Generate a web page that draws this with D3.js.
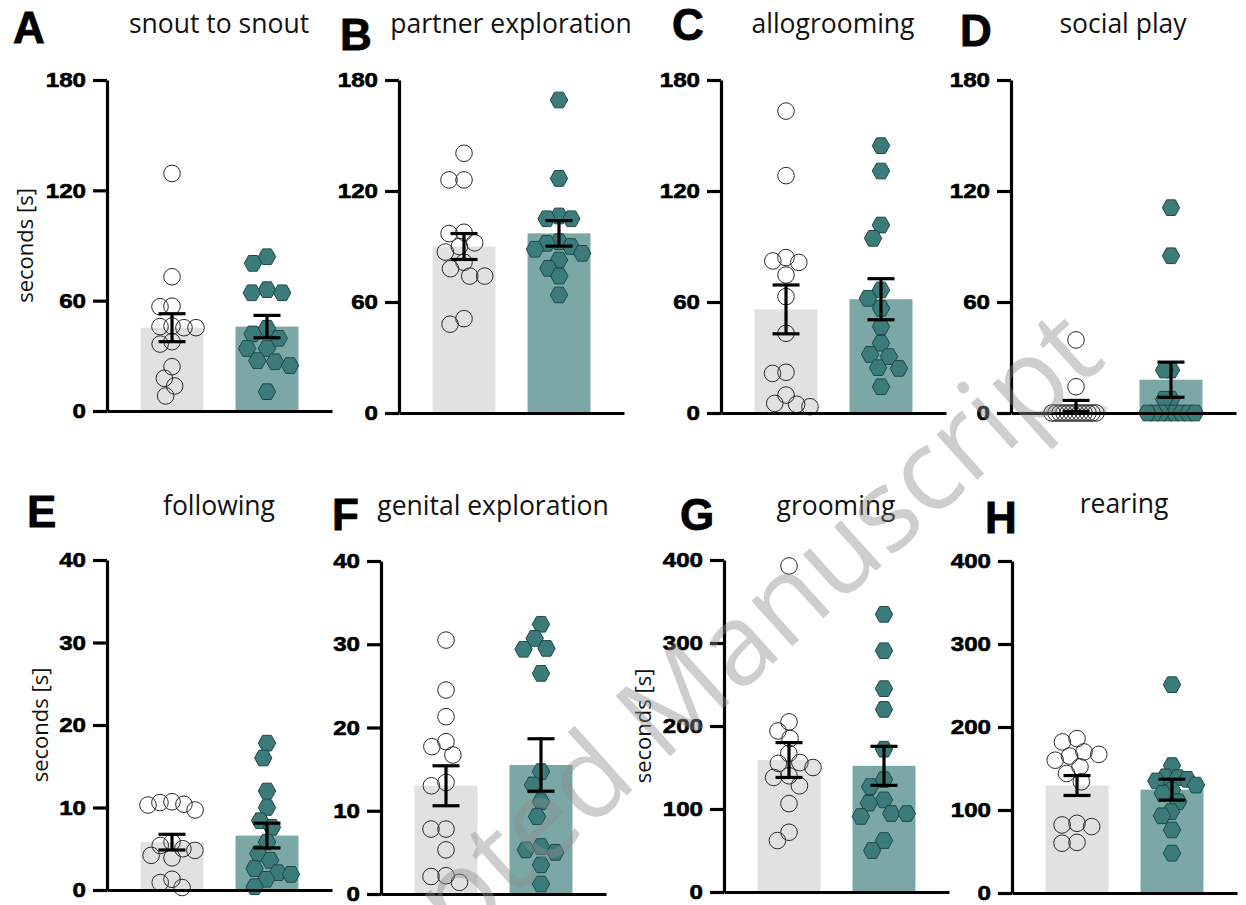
<!DOCTYPE html>
<html><head><meta charset="utf-8">
<script src="https://cdn.jsdelivr.net/npm/d3@7"></script>
<style>body{margin:0;background:#fff}</style>
</head><body><svg id="chart" width="1246" height="905"></svg>
<script>
// ---------------- DATA ----------------
const panelLetters = ["A", "B", "C", "D", "E", "F", "G", "H"];
const panelTitles = ["snout to snout", "partner exploration", "allogrooming", "social play",
                     "following", "genital exploration", "grooming", "rearing"];
const groups = ["control", "treated"];
const yMax = [180, 180, 180, 180, 40, 40, 400, 400];
const yTicks = [[0, 60, 120, 180], [0, 60, 120, 180], [0, 60, 120, 180], [0, 60, 120, 180],
                [0, 10, 20, 30, 40], [0, 10, 20, 30, 40], [0, 100, 200, 300, 400], [0, 100, 200, 300, 400]];
const yAxisLabel = "seconds [s]";
const watermarkText = "Accepted Manuscript";

const controlValues = [
  [129.2, 73, 57, 56.7, 46.2, 45.9, 45.3, 45.3, 37.7, 36.4, 24.1, 17.8, 13.6, 8.2],
  [140.4, 126, 126, 97.7, 97, 92, 90, 87, 81.5, 78, 74, 74, 51, 48],
  [163.2, 128.3, 84, 82.2, 81.4, 74.6, 62.9, 43.1, 22, 21.4, 9.7, 5.2, 4.7, 3.4],
  [39.5, 14.2, 0, 0, 0, 0, 0, 0, 0, 0, 0, 0, 0, 0],
  [10.7, 10.6, 10.4, 10.3, 9.7, 5.8, 5.4, 5.0, 4.8, 4.2, 3.9, 1.3, 0.9, 0.3],
  [30.5, 24.5, 21.3, 18.3, 17.7, 16.7, 13.4, 13, 7.8, 7.8, 5.3, 2.2, 2.1, 1.4],
  [392.8, 205, 194, 185, 167, 156, 155, 150, 140, 138, 128, 106.5, 72, 62],
  [186, 182, 170, 167, 165, 160, 152, 144, 134, 84, 82, 80, 61, 60]
];
const treatedValues = [
  [83.9, 80.3, 66, 64.3, 64.3, 45, 41.9, 39.5, 34, 34, 27.4, 26.8, 24.7, 10.5],
  [169.2, 126.8, 106.5, 105, 105, 92.6, 91.7, 90, 88.5, 86.3, 82.7, 78.2, 74, 63.8],
  [144.5, 130.8, 101.6, 94.4, 66.5, 62, 56.6, 46.7, 37.7, 31.7, 30.5, 24.5, 24.1, 14.2],
  [111, 85, 23.2, 23.2, 7.4, 7.4, 0, 0, 0, 0, 0, 0, 0, 0],
  [17.8, 16, 12, 10, 8.4, 7.6, 5.8, 4.4, 3.6, 2.6, 2.1, 1.9, 1.3, 0.4],
  [32.4, 30.7, 29.5, 29.4, 26.5, 14.7, 13.1, 11.1, 9.3, 5.7, 5.3, 5, 3.5, 1.2],
  [334.5, 290.7, 245, 220, 172, 135.5, 127, 111, 107, 94.5, 94.5, 91, 62, 50],
  [251, 153.5, 140, 139, 137, 135, 130, 124, 120, 110, 98, 93, 76, 48]
];
const controlMean = [45.3, 90, 56, 3.8, 5.8, 13, 159, 129.5];
const controlSem  = [7.6, 7, 13.2, 3.0, 0.95, 2.4, 21, 12];
const treatedMean = [45.9, 97.1, 61.5, 18, 6.6, 15.5, 152, 124.5];
const treatedSem  = [6.1, 6.9, 11.1, 9.5, 1.5, 3.15, 23.5, 12.6];

// ---------------- LAYOUT ----------------
const layout = [
  {x: 107,  top: 80,  bottom: 411, lx: 13,  ly: 43,  ty: 33,  ylab: -82},
  {x: 399,  top: 80,  bottom: 413, lx: 340, ly: 50,  ty: 33,  ylab: null},
  {x: 721,  top: 80,  bottom: 413, lx: 672, ly: 40,  ty: 33,  ylab: null},
  {x: 1011, top: 80,  bottom: 413, lx: 960, ly: 46,  ty: 33,  ylab: null},
  {x: 107,  top: 560, bottom: 890, lx: 27,  ly: 527, ty: 515, ylab: -67},
  {x: 381,  top: 561, bottom: 894, lx: 332, ly: 530, ty: 515, ylab: null},
  {x: 724,  top: 560, bottom: 892, lx: 680, ly: 530, ty: 515, ylab: -81},
  {x: 1012, top: 561, bottom: 893, lx: 985, ly: 533, ty: 513, ylab: null}
];

const COL = {
  ctrlBar: "#e1e1e1", trtBar: "#7ba8a6", hexFill: "#3b7b79", hexStroke: "#1e4846",
  circStroke: "#2a2a2a", axis: "#000"
};

const svg = d3.select("#chart");

const hexagon = {
  draw(ctx, size) {
    const r = Math.sqrt(size / 2.598);
    for (let k = 0; k < 6; k++) {
      const a = k * Math.PI / 3;
      const px = r * Math.cos(a), py = r * Math.sin(a) * 1.04;
      if (k) ctx.lineTo(px, py); else ctx.moveTo(px, py);
    }
    ctx.closePath();
  }
};

function swarm(values, y, D, maxHalf) {
  const idx = values.map((v, i) => i).sort((a, b) => values[b] - values[a]);
  const placed = [];
  const xs = new Array(values.length).fill(0);
  for (const i of idx) {
    const yi = y(values[i]);
    const intervals = [];
    for (const p of placed) {
      const dy = Math.abs(p.y - yi);
      if (dy < D) {
        const dx = Math.sqrt(D * D - dy * dy);
        intervals.push([p.x - dx, p.x + dx]);
      }
    }
    const cands = [0];
    intervals.forEach(([a, b]) => cands.push(a, b));
    cands.sort((a, b) => Math.abs(a) - Math.abs(b) || a - b);
    let best = 0;
    for (const c of cands) {
      if (intervals.every(([a, b]) => c <= a + 1e-6 || c >= b - 1e-6)) { best = c; break; }
    }
    xs[i] = best;
    placed.push({x: best, y: yi});
  }
  const m = d3.max(xs, d => Math.abs(d));
  if (m > maxHalf) {
    const k = maxHalf / m;
    for (let i = 0; i < xs.length; i++) xs[i] *= k;
  }
  return xs;
}

// watermark (light, drawn first then overlaid again faintly)
panelTitles.forEach((title, p) => {
  const L = layout[p];
  const g = svg.append("g");
  const y = d3.scaleLinear().domain([0, yMax[p]]).range([L.bottom, L.top]);
  const xb = d3.scaleBand().domain(groups).range([L.x, L.x + 225])
    .paddingInner(0.337).paddingOuter(0.353);
  const bw = xb.bandwidth();

  // bars
  const means = [controlMean[p], treatedMean[p]];
  const sems = [controlSem[p], treatedSem[p]];
  g.selectAll("rect.bar").data(groups).join("rect")
    .attr("x", d => xb(d)).attr("width", bw)
    .attr("y", (d, i) => y(means[i]))
    .attr("height", (d, i) => y(0) - y(means[i]))
    .attr("fill", (d, i) => i ? COL.trtBar : COL.ctrlBar);

  // points
  const cx0 = xb("control") + bw / 2, cx1 = xb("treated") + bw / 2;
  const offC = swarm(controlValues[p], y, 15, 24);
  const offT = swarm(treatedValues[p], y, 15.5, 24);
  g.selectAll("path.ctrl").data(controlValues[p]).join("path")
    .attr("d", d3.symbol().type(d3.symbolCircle).size(Math.PI * 8.3 * 8.3))
    .attr("transform", (d, i) => `translate(${cx0 + offC[i]},${y(d)})`)
    .attr("fill", "none").attr("stroke", COL.circStroke).attr("stroke-width", 1);
  g.selectAll("path.trt").data(treatedValues[p]).join("path")
    .attr("d", d3.symbol().type(hexagon).size(2.598 * 8.7 * 8.7))
    .attr("transform", (d, i) => `translate(${cx1 + offT[i]},${y(d)})`)
    .attr("fill", COL.hexFill).attr("stroke", COL.hexStroke).attr("stroke-width", 1);

  // error bars
  const cap = 13.5;
  groups.forEach((gname, i) => {
    const cx = xb(gname) + bw / 2;
    const lo = y(means[i] - sems[i]), hi = y(means[i] + sems[i]);
    const eg = g.append("g").attr("stroke", "#000").attr("stroke-width", 3.2).attr("fill", "none");
    eg.append("line").attr("x1", cx).attr("x2", cx).attr("y1", lo).attr("y2", hi);
    eg.append("line").attr("x1", cx - cap).attr("x2", cx + cap).attr("y1", lo).attr("y2", lo);
    eg.append("line").attr("x1", cx - cap).attr("x2", cx + cap).attr("y1", hi).attr("y2", hi);
  });

  // axes
  const ya = g.append("g").attr("transform", `translate(${L.x},0)`)
    .call(d3.axisLeft(y).tickValues(yTicks[p]).tickSize(14).tickSizeOuter(0).tickPadding(6));
  ya.select(".domain").attr("stroke-width", 3.2);
  ya.selectAll(".tick line").attr("stroke-width", 3.2);
  ya.selectAll(".tick text")
    .attr("font-family", "'Liberation Sans', Arial, sans-serif")
    .attr("font-weight", "bold").attr("font-size", 21).attr("fill", "#000")
    .attr("stroke", "#000").attr("stroke-width", 0.6)
    .attr("x", -21 / 1.15).attr("transform", "scale(1.15,1)");

  const xa = g.append("g").attr("transform", `translate(0,${L.bottom})`)
    .call(d3.axisBottom(xb).tickSize(0).tickSizeOuter(0).tickFormat(""));
  xa.select(".domain").attr("stroke-width", 3.2);

  // title
  g.append("text").attr("x", L.x + 112).attr("y", L.ty)
    .attr("text-anchor", "middle")
    .attr("font-family", "'Open Sans', sans-serif").attr("font-size", 26.5).attr("fill", "#111")
    .text(title);
  // panel letter
  g.append("text").attr("x", L.lx).attr("y", L.ly)
    .attr("font-family", "'Liberation Sans', Arial, sans-serif").attr("font-weight", "bold")
    .attr("font-size", 44).attr("fill", "#000").attr("stroke", "#000").attr("stroke-width", 0.8)
    .text(panelLetters[p]);
  // y label
  if (L.ylab !== null) {
    g.append("text")
      .attr("transform", `translate(${L.x + L.ylab},${(L.top + L.bottom) / 2}) rotate(-90)`)
      .attr("text-anchor", "middle").attr("dy", "0.35em")
      .attr("font-family", "'Open Sans', sans-serif").attr("font-size", 22).attr("fill", "#111")
      .text(yAxisLabel);
  }
});

// watermark
svg.append("text")
  .attr("transform", "translate(1108,362) rotate(-42)")
  .attr("text-anchor", "end")
  .attr("font-family", "'Open Sans', sans-serif").attr("font-size", 114)
  .attr("fill", "#8c8c8c").attr("opacity", 0.42)
  .text(watermarkText);
</script></body></html>
